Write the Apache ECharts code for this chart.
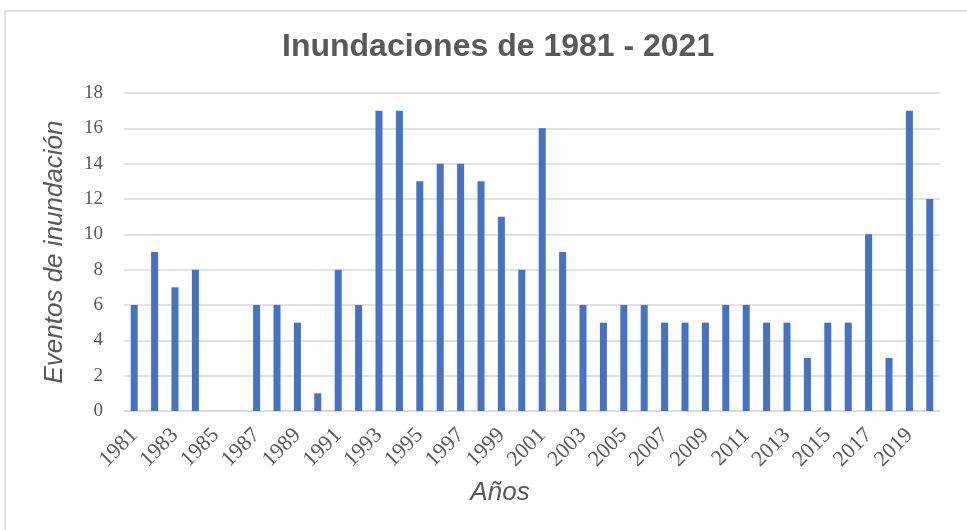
<!DOCTYPE html>
<html>
<head>
<meta charset="utf-8">
<script src="https://cdn.jsdelivr.net/npm/echarts@6/dist/echarts.min.js"></script>
<style>
  html, body { margin: 0; padding: 0; background: #fff; }
  #chart { width: 967px; height: 530px; }
</style>
</head>
<body>
<div id="chart"></div>
<script>
  // años 1981 - 2020
  const years = ['1981', '1982', '1983', '1984', '1985', '1986', '1987', '1988', '1989', '1990',
    '1991', '1992', '1993', '1994', '1995', '1996', '1997', '1998', '1999', '2000',
    '2001', '2002', '2003', '2004', '2005', '2006', '2007', '2008', '2009', '2010',
    '2011', '2012', '2013', '2014', '2015', '2016', '2017', '2018', '2019', '2020'];
  const eventos = [6, 9, 7, 8, 0, 0, 6, 6, 5, 1,
    8, 6, 17, 17, 13, 14, 14, 13, 11, 8,
    16, 9, 6, 5, 6, 6, 5, 5, 5, 6,
    6, 5, 5, 3, 5, 5, 10, 3, 17, 12];
  const yTicks = [0, 2, 4, 6, 8, 10, 12, 14, 16, 18];

  const gris = '#595959';
  const linea = '#d9d9d9';

  let chart = echarts.init(document.getElementById('chart'), null, { renderer: 'canvas' });
  chart.setOption({
    backgroundColor: '#fff',
    animation: false,
    graphic: [{
      type: 'rect',
      shape: { x: 5, y: 11, width: 1000, height: 600 },
      style: { fill: 'none', stroke: linea, lineWidth: 1.5 },
      silent: true
    }],
    title: {
      text: 'Inundaciones de 1981 - 2021',
      left: 277,
      top: 26,
      textStyle: {
        color: gris,
        fontSize: 32,
        fontWeight: 'bold',
        fontFamily: 'Liberation Sans, Arial, sans-serif'
      }
    },
    grid: {
      left: 124,
      right: 27,
      top: 93,
      bottom: 119
    },
    xAxis: {
      type: 'category',
      data: years,
      name: 'Años',
      nameLocation: 'middle',
      nameGap: 69,
      nameTextStyle: {
        color: gris,
        fontSize: 26,
        fontStyle: 'italic',
        fontFamily: 'Liberation Sans, Arial, sans-serif',
        padding: [0, 64, 0, 0]
      },
      axisLine: { lineStyle: { color: linea, width: 1.5 } },
      axisTick: { show: false },
      axisLabel: {
        interval: 1,
        rotate: 45,
        margin: 21,
        color: gris,
        fontSize: 22,
        fontFamily: 'Liberation Serif, Times New Roman, serif'
      }
    },
    yAxis: {
      type: 'value',
      min: yTicks[0],
      max: yTicks[yTicks.length - 1],
      interval: 2,
      name: 'Eventos de inundación',
      nameLocation: 'middle',
      nameGap: 56,
      nameTextStyle: {
        color: gris,
        fontSize: 26,
        fontStyle: 'italic',
        fontFamily: 'Liberation Sans, Arial, sans-serif'
      },
      axisLine: { show: false },
      axisTick: { show: false },
      splitLine: { lineStyle: { color: linea, width: 1.5 } },
      axisLabel: {
        margin: 21,
        color: gris,
        fontSize: 19,
        fontFamily: 'Liberation Serif, Times New Roman, serif'
      }
    },
    series: [{
      name: 'Eventos',
      type: 'bar',
      data: eventos,
      barWidth: 7,
      itemStyle: { color: '#4472c4' }
    }]
  });
</script>
</body>
</html>
